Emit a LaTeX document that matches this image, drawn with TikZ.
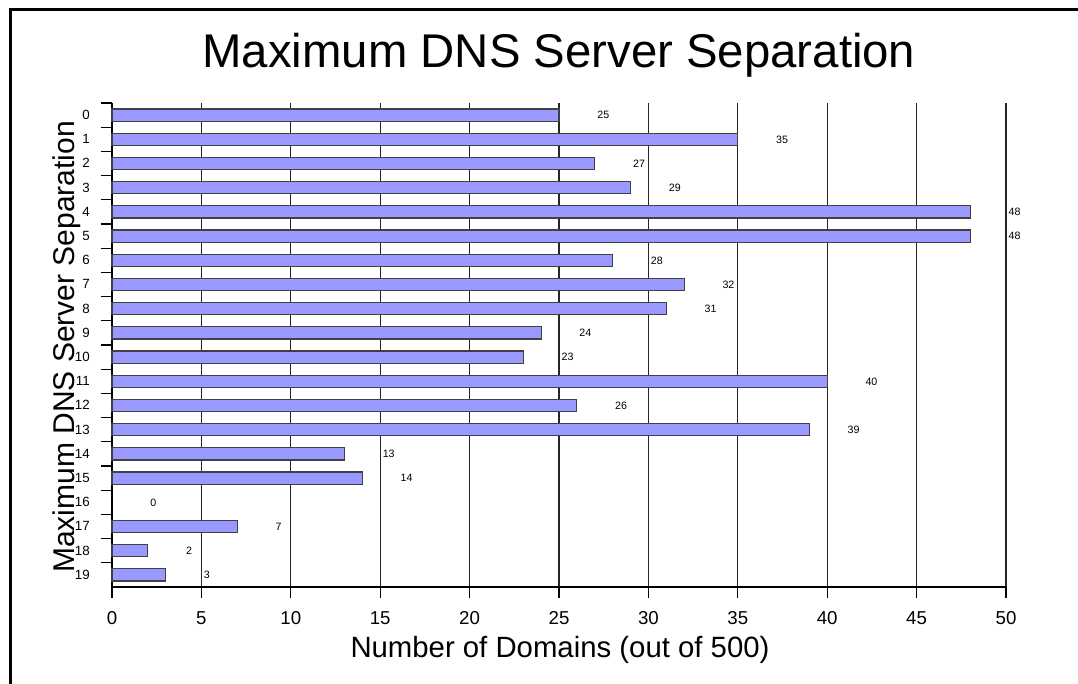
\documentclass[tikz,border=0pt]{standalone}
\usepackage{fontspec}
\setmainfont{Liberation Sans}
\definecolor{barblue}{HTML}{9999FF}

\begin{document}
\begin{tikzpicture}[x=0.75pt,y=-0.75pt,
    bar/.style={draw=black!75,fill=barblue,line width=0.9pt},
    gridline/.style={draw=black!85,line width=0.9pt},
    axis/.style={draw=black,line width=0.9pt},
    rowlbl/.style={anchor=base east,inner sep=0pt,font=\fontsize{10}{11}\selectfont},
    vallbl/.style={anchor=base west,inner sep=0pt,font=\fontsize{8}{9}\selectfont},
    ticklbl/.style={anchor=base,inner sep=0pt,font=\fontsize{14}{16}\selectfont},
    axtitle/.style={anchor=base,inner sep=0pt,font=\fontsize{22}{26}\selectfont},
]
\useasboundingbox (0,0) rectangle (1078,683);

% ---- Frame ---------------------------------------------------------------
\draw[line width=2.25pt] (10,690) -- (10,9) -- (1085,9);

% ---- Title ---------------------------------------------------------------
\node[anchor=base,inner sep=0pt,font=\fontsize{35.5}{42}\selectfont] (title)
    at (559,67) {Maximum DNS Server Separation};

% ---- Plot area (x: domains, y: rows) -------------------------------------
\begin{scope}[shift={(112,103)},x=13.41pt,y=-18.15pt]
  % grid
  \foreach \v in {5,10,...,50}
    \draw[gridline] (\v,0) -- (\v,20);
  % axes
  \draw[axis] (0,0) -- (0,20) -- (50,20);
  \foreach \v in {0,5,...,50} {
    \draw[axis] (\v,20) -- (\v,20.45);
    \node[ticklbl] (t\v) at (\v,21.53) {\v};
  }
  \foreach \i in {0,...,19}
    \draw[axis] (-0.62,\i) -- (0,\i);
  % bars
  \foreach \val [count=\i from 0] in {25,35,27,29,48,48,28,32,31,24,23,40,26,39,13,14,0,7,2,3} {
    \ifnum\val>0
      \draw[bar] (0,\i+0.25) rectangle (\val,\i+0.75);
    \fi
    \node[rowlbl] (r\i) at (-1.23,\i+0.68) {\i};
    \node[vallbl] (v\i) at (\val+2.13,\i+0.66) {\val};
  }
\end{scope}

% ---- Axis titles ---------------------------------------------------------
\node[axtitle] (xlabel) at (560,657) {Number of Domains (out of 500)};
\node[axtitle,font=\fontsize{22.5}{26}\selectfont,rotate=90] (ylabel)
    at (74,347) {Maximum DNS Server Separation};

\end{tikzpicture}
\end{document}
